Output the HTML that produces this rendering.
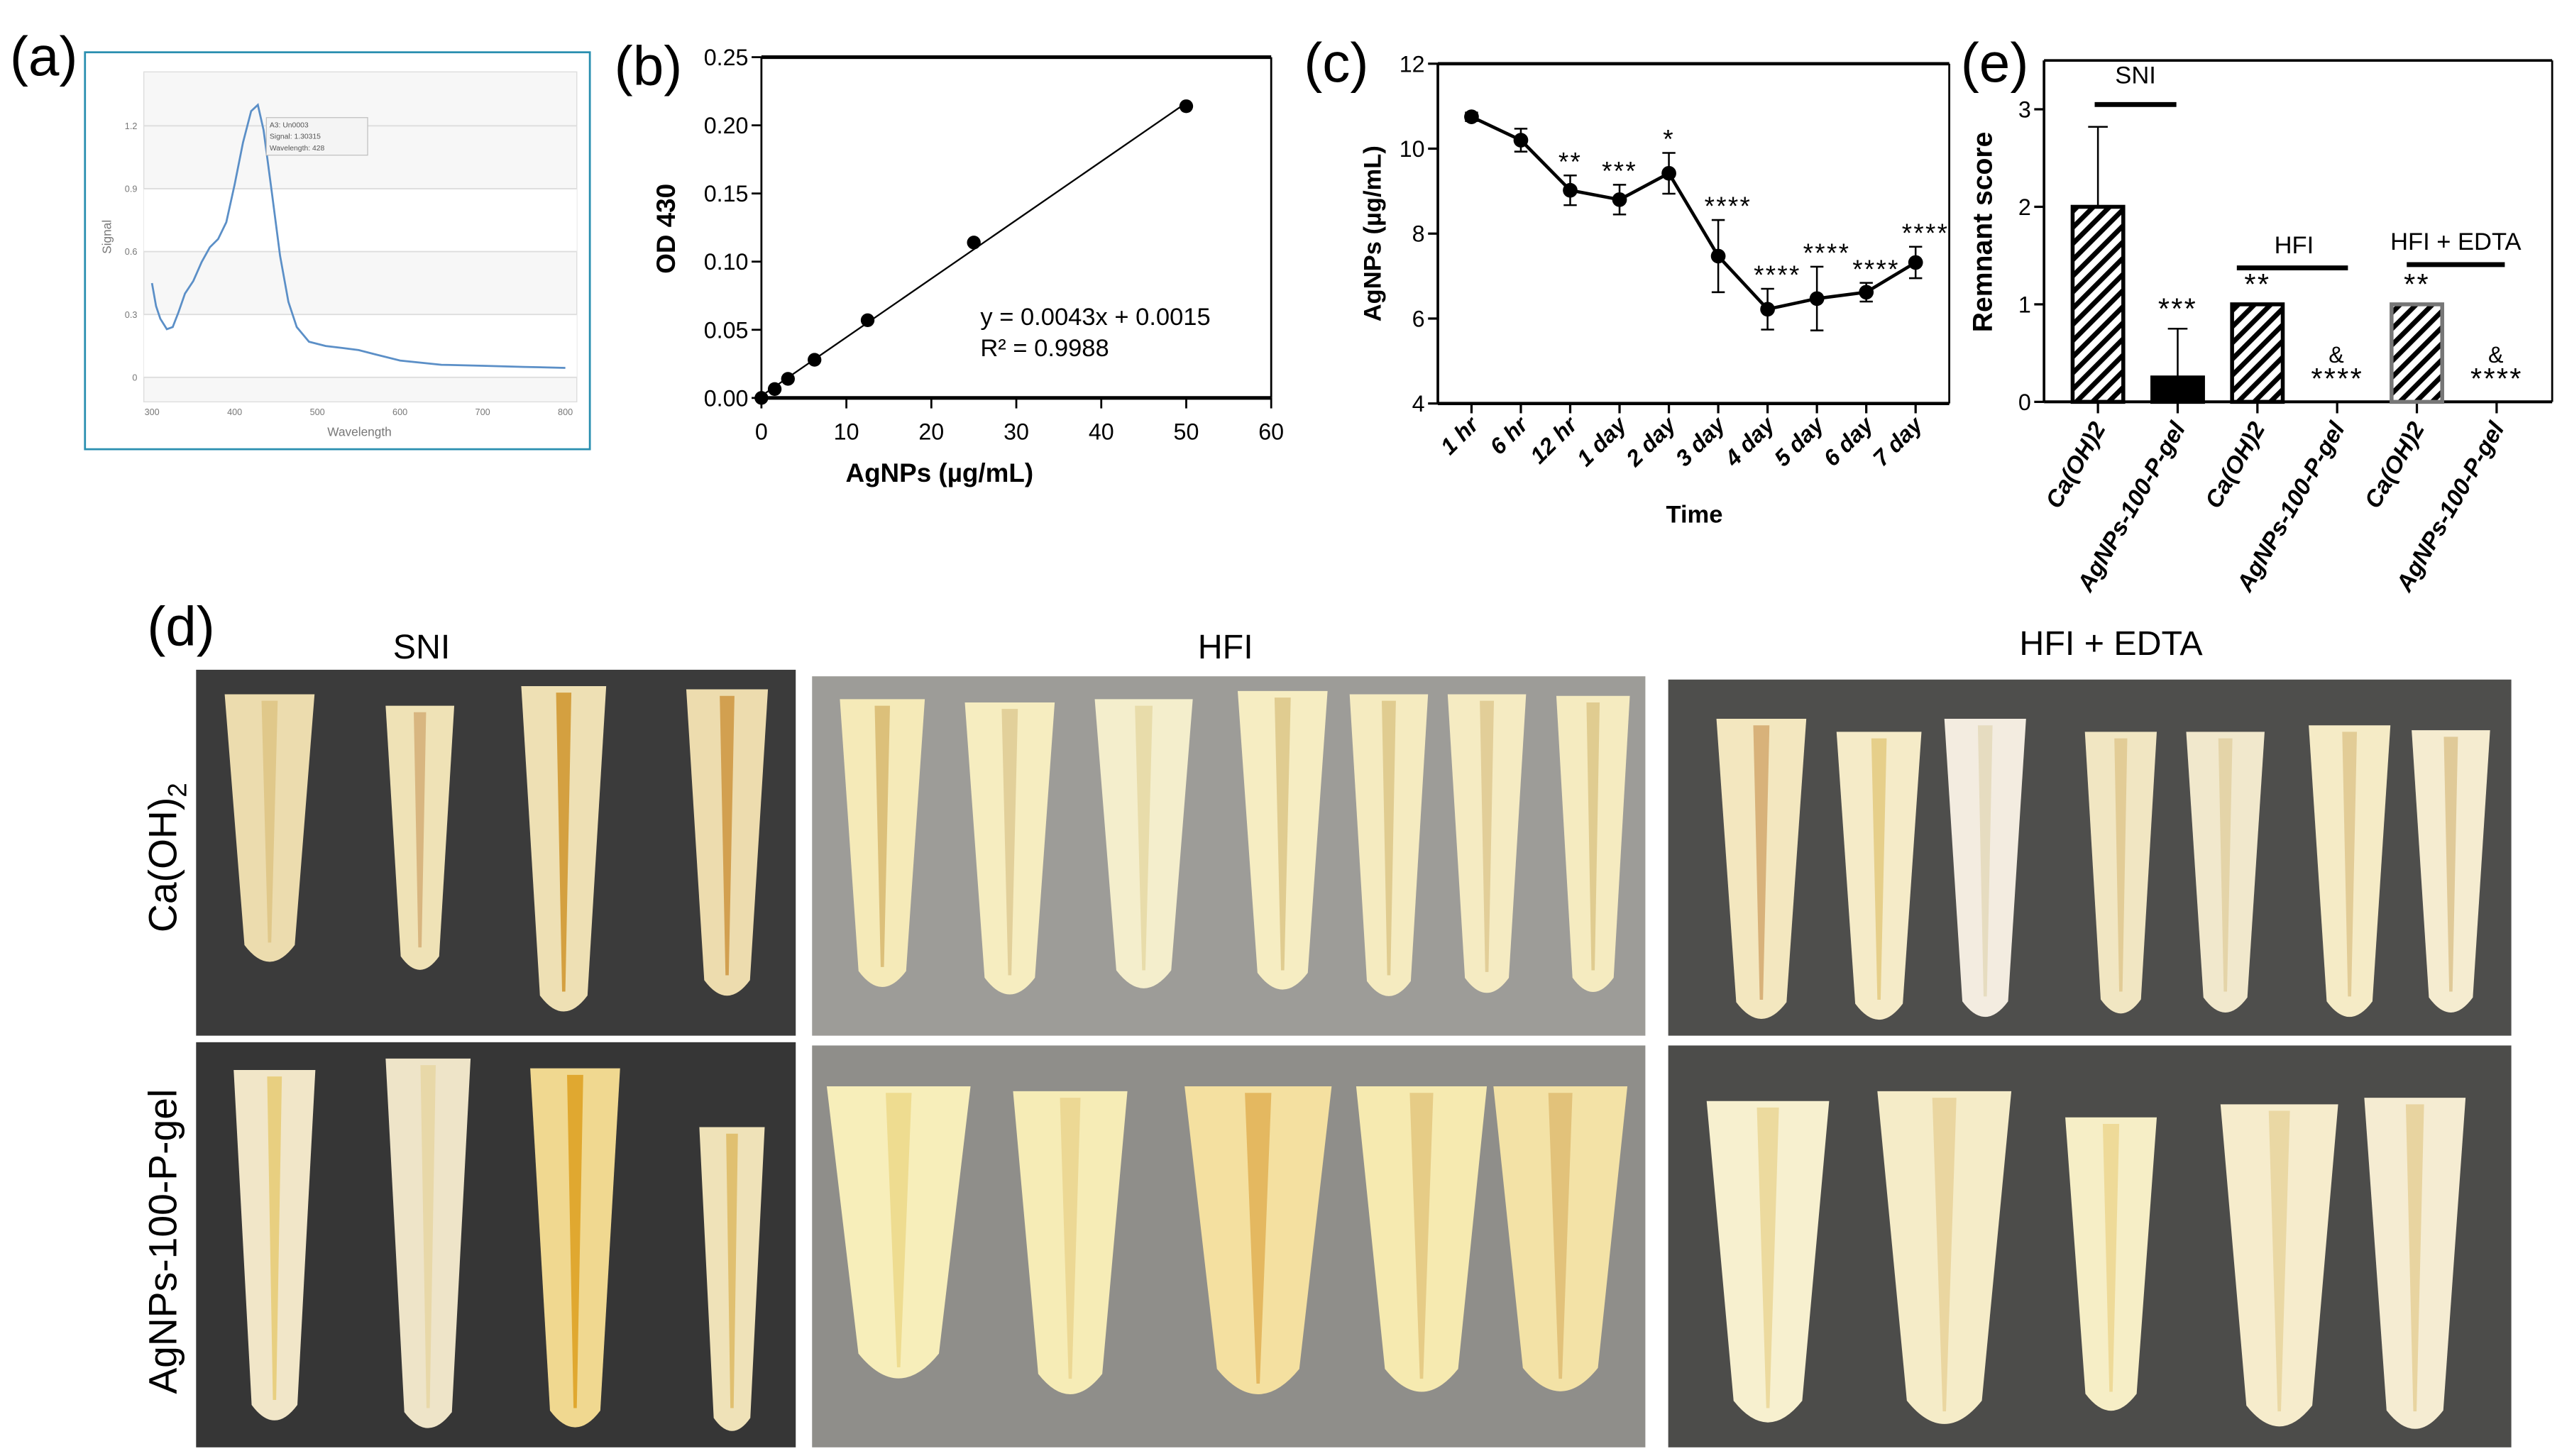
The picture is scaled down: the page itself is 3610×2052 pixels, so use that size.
<!DOCTYPE html>
<html><head><meta charset="utf-8"><style>
html,body{margin:0;padding:0;background:#fff;}
svg{display:block;font-family:"Liberation Sans",Arial,sans-serif;}
</style></head><body>
<svg id="fig" xmlns="http://www.w3.org/2000/svg" width="3610" height="2052" viewBox="0 0 1568 891.3">
<defs>
<pattern id="hatch" patternUnits="userSpaceOnUse" width="7" height="7" patternTransform="rotate(45)">
<rect width="7" height="7" fill="#fff"/><rect width="3" height="7" fill="#000"/></pattern>
</defs>
<g id="pa">
<text x="6" y="46" font-size="34">(a)</text>
<rect x="52" y="32" width="309" height="243" fill="#fff" stroke="#2a8fb0" stroke-width="1.2"/>
</g>
<g id="pb">
<text x="376" y="52" font-size="34">(b)</text>
<text x="575" y="295" font-size="16" font-weight="bold" text-anchor="middle">AgNPs (µg/mL)</text>
<text transform="translate(413,140) rotate(-90)" font-size="16" font-weight="bold" text-anchor="middle">OD 430</text>
<text x="600" y="199" font-size="15">y = 0.0043x + 0.0015</text>
<text x="600" y="218" font-size="15">R² = 0.9988</text>
</g>
<g id="pc">
<text x="798" y="50" font-size="34">(c)</text>
<text x="1037" y="320" font-size="15" font-weight="bold" text-anchor="middle">Time</text>
<text transform="translate(845,143) rotate(-90)" font-size="15" font-weight="bold" text-anchor="middle">AgNPs (µg/mL)</text>
</g>
<g id="pe">
<text x="1200" y="50" font-size="34">(e)</text>
<text transform="translate(1219,142) rotate(-90)" font-size="17" font-weight="bold" text-anchor="middle">Remnant score</text>
</g>
<g id="pd">
<text x="90" y="395" font-size="34">(d)</text>
<text x="258" y="403" font-size="21" text-anchor="middle">SNI</text>
<text x="750" y="403" font-size="21" text-anchor="middle">HFI</text>
<text x="1292" y="401" font-size="21" text-anchor="middle">HFI + EDTA</text>
<text transform="translate(108,525) rotate(-90)" font-size="24" text-anchor="middle">Ca(OH)<tspan font-size="16" dy="6">2</tspan></text>
<text transform="translate(108,760) rotate(-90)" font-size="24" text-anchor="middle">AgNPs-100-P-gel</text>
</g>
</svg>
<script>
// ---------- Panel a data ----------
const specWl=[300,305,310,318,325,332,340,350,360,370,380,390,400,410,420,428,435,445,455,465,475,490,510,530,550,570,600,650,700,750,800];
const specSig=[0.45,0.34,0.28,0.23,0.24,0.31,0.40,0.46,0.55,0.62,0.66,0.74,0.92,1.12,1.27,1.30,1.18,0.88,0.58,0.36,0.24,0.17,0.15,0.14,0.13,0.11,0.08,0.06,0.055,0.05,0.045];
const aYTicks=[0,0.3,0.6,0.9,1.2];
const aXTicks=[300,400,500,600,700,800];
// ---------- Panel b data ----------
const bConc=[0,1.5625,3.125,6.25,12.5,25,50];
const bOD=[0,0.0065,0.014,0.028,0.057,0.114,0.214];
const bXTicks=[0,10,20,30,40,50,60];
const bYTicks=[0,0.05,0.10,0.15,0.20,0.25];
const bYLabels=["0.00","0.05","0.10","0.15","0.20","0.25"];
// ---------- Panel c data ----------
const cCats=["1 hr","6 hr","12 hr","1 day","2 day","3 day","4 day","5 day","6 day","7 day"];
const cMean=[10.75,10.2,9.02,8.8,9.42,7.47,6.22,6.47,6.62,7.32];
const cErr=[0.1,0.27,0.35,0.35,0.48,0.85,0.48,0.75,0.22,0.37];
const cStars=["","","**","***","*","****","****","****","****","****"];
const cYTicks=[4,6,8,10,12];
// ---------- Panel e data ----------
const eCats=["Ca(OH)2","AgNPs-100-P-gel","Ca(OH)2","AgNPs-100-P-gel","Ca(OH)2","AgNPs-100-P-gel"];
const eVals=[2,0.25,1,0,1,0];
const eErr=[0.82,0.5,0,0,0,0];
const eStars=["","***","**","&\n****","**","&\n****"];
const eYTicks=[0,1,2,3];

const NS="http://www.w3.org/2000/svg";
function mk(parent,tag,attrs,text){const e=document.createElementNS(NS,tag);for(const k in attrs)e.setAttribute(k,attrs[k]);if(text!==undefined)e.textContent=text;parent.appendChild(e);return e;}

// Panel a
(function(){
const g=document.getElementById('pa');
const X=w=>93+(w-300)*(346-93)/500, Y=s=>231-s*(154/1.2);
mk(g,'rect',{x:88,y:44,width:265,height:202,fill:'#f7f7f7',stroke:'#ddd','stroke-width':0.6});
mk(g,'rect',{x:88,y:Y(0.9),width:265,height:Y(0.6)-Y(0.9),fill:'#fff'});
mk(g,'rect',{x:88,y:Y(0.3),width:265,height:Y(0)-Y(0.3),fill:'#fff'});
aYTicks.forEach(t=>{
 const l=mk(g,'line',{x1:88,x2:353,y1:Y(t),y2:Y(t),stroke:'#ddd','stroke-width':0.8});
 
 
 const tx=mk(g,'text',{x:84,y:Y(t)+2,'font-size':5.5,fill:'#777','text-anchor':'end'},String(t));
 
 
});
aXTicks.forEach(t=>{
 const tx=mk(g,'text',{x:X(t),y:254,'font-size':5.5,fill:'#777','text-anchor':'middle'},String(t));
 
 
});
const xl=mk(g,'text',{x:220,y:267,'font-size':7.5,fill:'#777','text-anchor':'middle'},'Wavelength');


const yl=mk(g,'text',{transform:'translate(68,145) rotate(-90)','font-size':7.5,fill:'#777','text-anchor':'middle'},'Signal');


const p=mk(g,'path',{d:specWl.map((w,i)=>(i?'L':'M')+X(w).toFixed(1)+','+Y(specSig[i]).toFixed(1)).join(''),fill:'none',stroke:'#5b8fc7','stroke-width':1.2});


const tb=mk(g,'g',{});


mk(tb,'rect',{x:163,y:72,width:62,height:23,fill:'#f4f4f4',stroke:'#bbb','stroke-width':0.5});
mk(tb,'text',{x:165,y:78,'font-size':4.5,fill:'#555'},'A3: Un0003');
mk(tb,'text',{x:165,y:85,'font-size':4.5,fill:'#555'},'Signal:        1.30315');
mk(tb,'text',{x:165,y:92,'font-size':4.5,fill:'#555'},'Wavelength: 428');
})();

// Panel b
(function(){
const g=document.getElementById('pb');
const X=v=>466+v*(778-466)/60, Y=v=>243.6-v*(243.6-35)/0.25;
mk(g,'line',{x1:466,x2:778,y1:35,y2:35,stroke:'#000','stroke-width':2.2});
mk(g,'line',{x1:778,x2:778,y1:35,y2:243.6,stroke:'#000','stroke-width':1.2});
mk(g,'line',{x1:466,x2:466,y1:35,y2:243.6,stroke:'#000','stroke-width':1.2});
mk(g,'line',{x1:466,x2:778,y1:243.6,y2:243.6,stroke:'#000','stroke-width':2.2});
bYTicks.forEach((t,i)=>{
 mk(g,'line',{x1:460,x2:466,y1:Y(t),y2:Y(t),stroke:'#000','stroke-width':1.2});
 const tx=mk(g,'text',{x:458,y:Y(t)+5,'font-size':14,'text-anchor':'end'},bYLabels[i]);
 
 
});
bXTicks.forEach(t=>{
 mk(g,'line',{x1:X(t),x2:X(t),y1:243.6,y2:250,stroke:'#000','stroke-width':1.2});
 const tx=mk(g,'text',{x:X(t),y:269,'font-size':14,'text-anchor':'middle'},String(t));
 
 
});
const fit=mk(g,'line',{x1:X(0),y1:Y(0.0015),x2:X(50),y2:Y(0.0043*50+0.0015),stroke:'#000','stroke-width':1});


bConc.forEach((c,i)=>{
 const d=mk(g,'circle',{cx:X(c),cy:Y(bOD[i]),r:4.2,fill:'#000'});
 
 
});
})();

// Panel c
(function(){
const g=document.getElementById('pc');
const L=880,R=1193,T=39,B=247;
const X=i=>900.6+i*30.2, Y=v=>B-(v-4)*(B-T)/8;
mk(g,'line',{x1:L,x2:R,y1:T,y2:T,stroke:'#000','stroke-width':2});
mk(g,'line',{x1:R,x2:R,y1:T,y2:B,stroke:'#000','stroke-width':1.2});
mk(g,'line',{x1:L,x2:L,y1:T,y2:B,stroke:'#000','stroke-width':1.6});
mk(g,'line',{x1:L,x2:R,y1:B,y2:B,stroke:'#000','stroke-width':2});
cYTicks.forEach(t=>{
 mk(g,'line',{x1:L-6,x2:L,y1:Y(t),y2:Y(t),stroke:'#000','stroke-width':1.4});
 const tx=mk(g,'text',{x:L-8,y:Y(t)+5,'font-size':14,'text-anchor':'end'},String(t));
 
 
});
cCats.forEach((c,i)=>{
 mk(g,'line',{x1:X(i),x2:X(i),y1:B,y2:B+6,stroke:'#000','stroke-width':1.4});
 const tx=mk(g,'text',{transform:`translate(${X(i)+5},${B+14}) rotate(-45)`,'font-size':14,'font-weight':'bold','font-style':'italic','text-anchor':'end'},c);
 
 
});
const ln=mk(g,'path',{d:cMean.map((v,i)=>(i?'L':'M')+X(i)+','+Y(v)).join(''),fill:'none',stroke:'#000','stroke-width':2});


cMean.forEach((v,i)=>{
 const e=mk(g,'path',{d:`M${X(i)},${Y(v-cErr[i])}V${Y(v+cErr[i])}M${X(i)-4},${Y(v-cErr[i])}h8M${X(i)-4},${Y(v+cErr[i])}h8`,stroke:'#000','stroke-width':1.1,fill:'none'});
 
 
 const d=mk(g,'circle',{cx:X(i),cy:Y(v),r:4.5,fill:'#000'});
 
 
 if(cStars[i]){
  const s=mk(g,'text',{x:X(i)+(cStars[i].length>3?6:0),y:Y(v+cErr[i])-3,'font-size':16,'letter-spacing':'1','text-anchor':'middle'},cStars[i]);
  
  
 }
});
})();

// Panel e
(function(){
const g=document.getElementById('pe');
const L=1251,R=1562,T=37,B=246,U=59.7;
const X=i=>1284+i*48.8, Y=v=>B-v*U, W=31;
mk(g,'line',{x1:L,x2:R,y1:T,y2:T,stroke:'#000','stroke-width':1.6});
mk(g,'line',{x1:R,x2:R,y1:T,y2:B,stroke:'#000','stroke-width':1.2});
mk(g,'line',{x1:L,x2:L,y1:T,y2:B,stroke:'#000','stroke-width':1.6});
mk(g,'line',{x1:L,x2:R,y1:B,y2:B,stroke:'#000','stroke-width':1.8});
eYTicks.forEach(t=>{
 mk(g,'line',{x1:L-6,x2:L,y1:Y(t),y2:Y(t),stroke:'#000','stroke-width':1.4});
 const tx=mk(g,'text',{x:L-8,y:Y(t)+5,'font-size':14,'text-anchor':'end'},String(t));
 
 
});
eCats.forEach((c,i)=>{
 mk(g,'line',{x1:X(i),x2:X(i),y1:B,y2:B+7,stroke:'#000','stroke-width':1.4});
 const tx=mk(g,'text',{transform:`translate(${X(i)+5},${B+16}) rotate(-60)`,'font-size':14.5,'font-weight':'bold','font-style':'italic','text-anchor':'end'},c);
 
 
 const v=eVals[i];
 if(eErr[i]>0){
  const e=mk(g,'path',{d:`M${X(i)},${Y(v)}V${Y(v+eErr[i])}M${X(i)-6},${Y(v+eErr[i])}h12`,stroke:'#000','stroke-width':1.1,fill:'none'});
  
  
 }
 if(v>0){
  const b=mk(g,'rect',{x:X(i)-W/2,y:Y(v),width:W,height:Y(0)-Y(v),fill:i%2?'#000':'url(#hatch)',stroke:i===4?'#777':'#000','stroke-width':2.4});
  
  
 }
 if(eStars[i]){
  const lines=eStars[i].split('\n');
  const top=Y(v+eErr[i])-(lines.length>1?14:6);
  lines.forEach((s,k)=>{
   const t=mk(g,'text',{x:X(i),y:(lines.length>1?Y(0)-24:top)+k*16,'font-size':lines[k]==='&'?14:18,'letter-spacing':'1','text-anchor':'middle'},s);
   
   
  });
 }
});
const grp=[["SNI",1307,1282,1332,64,51],["HFI",1404,1369,1437,164,155],["HFI + EDTA",1503,1473,1533,162,153]];
grp.forEach(a=>{
 const t=mk(g,'text',{x:a[1],y:a[5],'font-size':15,'text-anchor':'middle'},a[0]);
 
 
 const l=mk(g,'line',{x1:a[2],x2:a[3],y1:a[4],y2:a[4],stroke:'#000','stroke-width':3});
 
 
});
})();

// Panel d photos
const photoBoxes=[[120,410,367,224,'#3b3b3b'],[120,638,367,248,'#363636'],[497,414,510,220,'#9d9c98'],[497,640,510,246,'#8f8e8a'],[1021,416,516,218,'#4e4e4c'],[1021,640,516,246,'#4c4c4a']];
const toothCx=[165,257,345,445, 540,618,700,785,850,910,975, 1078,1150,1215,1298,1362,1438,1500, 168,262,352,448, 550,655,770,870,955, 1082,1190,1292,1395,1478];
const toothTop=[425,432,420,422, 428,430,428,423,425,425,426, 440,448,440,448,448,444,447, 655,648,654,690, 665,668,665,665,665, 674,668,684,676,672];
const toothBot=[595,598,625,615, 610,615,612,612,615,613,612, 630,630,628,625,625,628,625, 875,880,880,880, 855,862,865,862,862, 880,882,870,882,882];
const toothW=[55,42,52,50, 52,55,60,55,48,48,45, 55,52,50,44,48,50,48, 50,52,55,40, 88,70,90,80,82, 75,82,56,72,62];
const toothCol=['#ecdcae','#efe2b6','#eee0b4','#eddcae', '#f5eab8','#f6edc0','#f4eecc','#f6edc2','#f5ebc0','#f5ebc2','#f5ebc0', '#f3e7bf','#f5ebc8','#f3ece0','#f1e6c2','#f1e8cc','#f5ebc6','#f5ecd0', '#f1e6c8','#eee4c8','#f0d890','#efe2b8', '#f7eeba','#f6ecb6','#f4e0a0','#f6eab0','#f3e2a6', '#f7f0cf','#f5ecc8','#f6eec6','#f6eccc','#f5ecd2'];
const toothCanal=['#e0c88a','#d8b680','#d4a040','#d2a050','#dcc07a','#e2d09a','#e8dcaa','#e0cc90','#e0cc90','#e2ce98','#e0cc90','#d8b27a','#e6cf8a','#e6dcc0','#e2cc96','#e4d4a8','#e2cc96','#e0ca98','#e8cf80','#e8d8a8','#e0a830','#e0c070','#eedc90','#ecd894','#e4b860','#e6cc86','#e2c27a','#ecda9e','#ead6a0','#eeda98','#ead8a4','#e8d4a0'];
(function(){
const g=document.getElementById('pd');
photoBoxes.forEach(b=>{
 const r=mk(g,'rect',{x:b[0],y:b[1],width:b[2],height:b[3],fill:b[4]});
 
 
});
toothCx.forEach((cx,i)=>{
 const y0=toothTop[i],y1=toothBot[i],w=toothW[i];
 const d=`M${cx-w/2},${y0}L${cx+w/2},${y0}L${cx+w*0.28},${y1-w*0.3}Q${cx},${y1+4} ${cx-w*0.28},${y1-w*0.3}Z`;
 const t=mk(g,'path',{d:d,fill:toothCol[i]});
 
 
 const c=mk(g,'path',{d:`M${cx-w*0.09},${y0+4}L${cx+w*0.09},${y0+4}L${cx+1},${y1-18}L${cx-1},${y1-18}Z`,fill:toothCanal[i]});
 
 
});
})();
</script>
</body></html>
